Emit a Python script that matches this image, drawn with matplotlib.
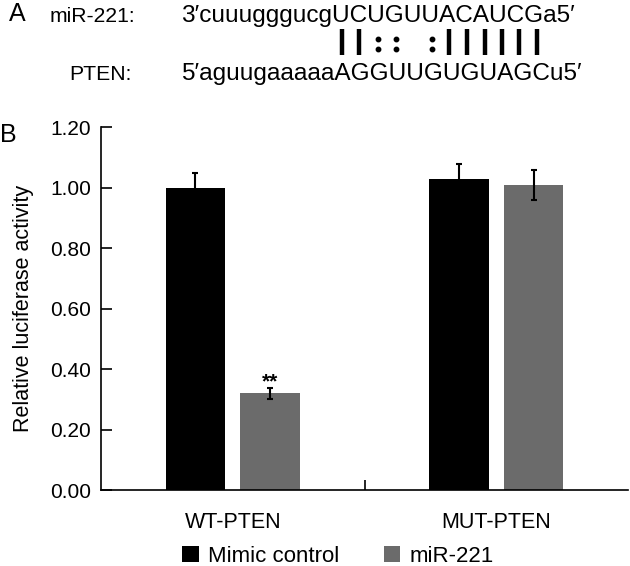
import numpy as np
import matplotlib
matplotlib.use('Agg')
from matplotlib import pyplot as plt
from matplotlib.lines import Line2D
from matplotlib.font_manager import FontProperties

plt.rcParams['font.family'] = ['Liberation Sans', 'DejaVu Sans']

groups = ['WT-PTEN', 'MUT-PTEN']
series = ['Mimic control', 'miR-221']
mimic = [1.00, 1.03]
mimic_err = [0.05, 0.05]
mir = [0.32, 1.01]
mir_err = [0.018, 0.05]
colors = ['#000000', '#6b6b6b']
yticks = [0.0, 0.2, 0.4, 0.6, 0.8, 1.0, 1.2]

mir_seq = "3\u2032cuuugggucgUCUGUUACAUCGa5\u2032"
pten_seq = "5\u2032aguugaaaaaAGGUUGUGUAGCu5\u2032"
pairing = "||:: :||||||"
seed_start = 12

W, H = 630, 566
fig = plt.figure(figsize=(W/100, H/100), dpi=100)

def fx(px):
    return px / W

def fy(py):
    return 1 - py / H

# panel B: bar chart
ax = fig.add_axes([fx(101), fy(490), (628-101)/W, (490-127.3)/H])
x = np.array([0.5, 1.5])
off = 0.1415
bw = 0.226
ekw = dict(ecolor='k', elinewidth=1.5, capsize=2, capthick=1.5)
ax.bar(x-off, mimic, bw, yerr=mimic_err, color=colors[0], label=series[0], error_kw=ekw)
ax.bar(x+off, mir, bw, yerr=mir_err, color=colors[1], label=series[1], error_kw=ekw)
ax.text(x[0]+off, 0.34, '**', ha='center', va='baseline', fontsize=15, fontweight='bold')

ax.set_xlim(0, 2)
ax.set_ylim(0, 1.2)
ax.set_yticks(yticks)
ax.set_yticklabels(['%.2f' % v for v in yticks], fontsize=15)
ax.set_xticks(x)
ax.set_xticklabels(groups, fontsize=15.5)
ax.set_xticks([1], minor=True)
ax.tick_params(axis='x', which='major', length=0, pad=16)
ax.tick_params(axis='x', which='minor', direction='in', length=7, width=1.2)
ax.tick_params(axis='y', direction='in', length=8, width=1.2, pad=7)
for s in ['top', 'right']:
    ax.spines[s].set_visible(False)
for s in ['left', 'bottom']:
    ax.spines[s].set_linewidth(1.2)
ax.set_ylabel('Relative luciferase activity', fontsize=15.5)
ax.yaxis.set_label_coords((34-101)/527, 0.5)

fig.legend(loc='center', bbox_to_anchor=(fx(338), fy(556)), ncol=2, frameon=False,
           fontsize=16, handlelength=0.75, handleheight=0.75, handletextpad=0.4,
           columnspacing=2.0, borderpad=0, borderaxespad=0)

fig.text(fx(0), fy(142), 'B', fontsize=18, va='baseline')

# panel A: sequence pairing
fig.text(fx(9), fy(21), 'A', fontsize=18, va='baseline')
fig.text(fx(50), fy(22), 'miR-221:', fontsize=15.2, va='baseline')
fig.text(fx(69), fy(80), 'PTEN:', fontsize=15.2, va='baseline')
seq_size = 17.6
seq_x = 181
fig.text(fx(seq_x), fy(22), mir_seq, fontsize=seq_size, va='baseline')
fig.text(fx(seq_x), fy(80), pten_seq, fontsize=seq_size, va='baseline')

renderer = fig.canvas.get_renderer()
fp = FontProperties(family=['Liberation Sans', 'DejaVu Sans'], size=seq_size)

def width(s):
    if not s:
        return 0.0
    return renderer.get_text_width_height_descent(s, fp, ismath=False)[0]

for k, mark in enumerate(pairing):
    i = seed_start + k
    c1 = seq_x + width(mir_seq[:i]) + width(mir_seq[i]) / 2
    c2 = seq_x + width(pten_seq[:i]) + width(pten_seq[i]) / 2
    cx = (c1 + c2) / 2
    if mark == '|':
        fig.add_artist(Line2D([fx(cx), fx(cx)], [fy(29), fy(55)], transform=fig.transFigure,
                              color='k', lw=3.2, solid_capstyle='butt'))
    elif mark == ':':
        fig.add_artist(Line2D([fx(cx), fx(cx)], [fy(39), fy(49)], transform=fig.transFigure,
                              color='k', lw=0, marker='o', markersize=3.2))

fig.savefig('out.png', dpi=100)
